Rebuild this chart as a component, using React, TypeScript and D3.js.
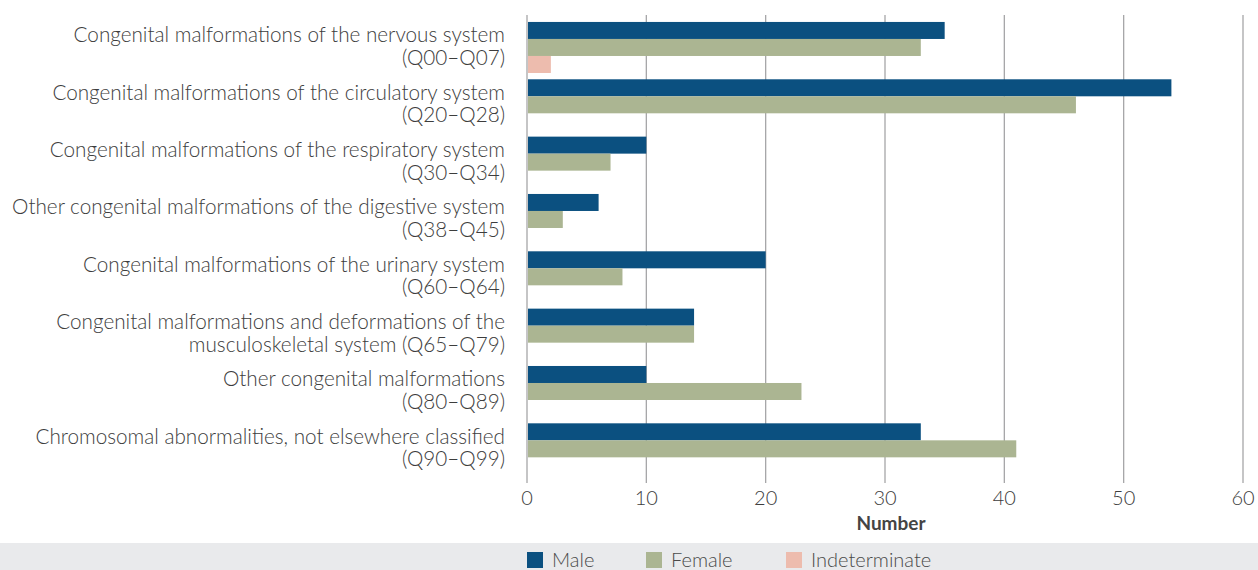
import { useEffect, useRef } from 'react';
import * as d3 from 'd3';

const categories = [
  ['Congenital malformations of the nervous system', '(Q00–Q07)'],
  ['Congenital malformations of the circulatory system', '(Q20–Q28)'],
  ['Congenital malformations of the respiratory system', '(Q30–Q34)'],
  ['Other congenital malformations of the digestive system', '(Q38–Q45)'],
  ['Congenital malformations of the urinary system', '(Q60–Q64)'],
  ['Congenital malformations and deformations of the', 'musculoskeletal system (Q65–Q79)'],
  ['Other congenital malformations', '(Q80–Q89)'],
  ['Chromosomal abnormalities, not elsewhere classified', '(Q90–Q99)'],
];

const maleValues = [35, 54, 10, 6, 20, 14, 10, 33];
const femaleValues = [33, 46, 7, 3, 8, 14, 23, 41];
const indeterminateValues = [2, 0, 0, 0, 0, 0, 0, 0];

const seriesNames = ['Male', 'Female', 'Indeterminate'];
const seriesColors = ['#0b5080', '#abb592', '#edbcae'];

const xTicks = [0, 10, 20, 30, 40, 50, 60];

const FONT = 'Lato, "Open Sans", sans-serif';

export default function App() {
  const svgRef = useRef<SVGSVGElement>(null);

  useEffect(() => {
    const width = 1258;
    const height = 570;
    const margin = { left: 527, right: 15, top: 18.8, bottom: 92.5 };

    const svg = d3.select(svgRef.current);
    svg.selectAll('*').remove();
    svg.attr('width', width).attr('height', height);

    const x = d3.scaleLinear()
      .domain([0, 60])
      .range([margin.left, width - margin.right]);

    const y = d3.scaleBand<number>()
      .domain(d3.range(categories.length))
      .range([margin.top, height - margin.bottom])
      .paddingInner(0.11)
      .paddingOuter(0.055);

    const inner = d3.scaleBand<number>()
      .domain([0, 1, 2])
      .range([0, y.bandwidth()]);

    // gridlines
    svg.append('g')
      .selectAll('line')
      .data(xTicks)
      .join('line')
      .attr('x1', d => x(d))
      .attr('x2', d => x(d))
      .attr('y1', 15)
      .attr('y2', 483)
      .attr('stroke', '#a6a6a8')
      .attr('stroke-width', 1.3);

    const table = categories.map((_, i) => [maleValues[i], femaleValues[i], indeterminateValues[i]]);

    const groups = svg.append('g')
      .selectAll('g')
      .data(table)
      .join('g')
      .attr('transform', (_, i) => `translate(0,${y(i)})`);

    groups.selectAll('rect')
      .data(d => d)
      .join('rect')
      .attr('x', x(0) + 1)
      .attr('y', (_, j) => inner(j)!)
      .attr('width', d => Math.max(0, x(d) - x(0) - 1))
      .attr('height', inner.bandwidth())
      .attr('fill', (_, j) => seriesColors[j]);

    // category labels
    const labels = svg.append('g')
      .selectAll('text')
      .data(categories)
      .join('text')
      .attr('text-anchor', 'end')
      .attr('font-family', FONT)
      .attr('font-size', 20.7)
      .attr('font-weight', 300)
      .attr('fill', '#3d3d3d')
      .attr('transform', (_, i) => `translate(505,${y(i)! + y.bandwidth() / 2})`);

    labels.selectAll('tspan')
      .data(d => d)
      .join('tspan')
      .attr('x', 0)
      .attr('y', (_, j) => (j === 0 ? -5.2 : 17.5))
      .text(d => d);

    // x tick labels
    svg.append('g')
      .selectAll('text')
      .data(xTicks)
      .join('text')
      .attr('x', d => x(d))
      .attr('y', 505)
      .attr('text-anchor', 'middle')
      .attr('font-family', FONT)
      .attr('font-size', 20)
      .attr('font-weight', 300)
      .attr('fill', '#3d3d3d')
      .text(d => d);

    svg.append('text')
      .attr('x', 891)
      .attr('y', 530)
      .attr('text-anchor', 'middle')
      .attr('font-family', FONT)
      .attr('font-size', 19)
      .attr('font-weight', 'bold')
      .attr('fill', '#444')
      .text('Number');

    // legend
    svg.append('rect')
      .attr('x', 0)
      .attr('y', 543)
      .attr('width', width)
      .attr('height', height - 543)
      .attr('fill', '#e9eaec');

    const legendX = [527, 646, 786];
    const legend = svg.append('g')
      .selectAll('g')
      .data(seriesNames)
      .join('g')
      .attr('transform', (_, i) => `translate(${legendX[i]},552)`);

    legend.append('rect')
      .attr('width', 16)
      .attr('height', 16)
      .attr('fill', (_, i) => seriesColors[i]);

    legend.append('text')
      .attr('x', 25)
      .attr('y', 15)
      .attr('font-family', FONT)
      .attr('font-size', 20)
      .attr('font-weight', 300)
      .attr('fill', '#4a4a4a')
      .text(d => d);
  }, []);

  return (
    <div style={{ position: 'fixed', left: 0, top: 0, background: '#fff' }}>
      <svg ref={svgRef} style={{ display: 'block' }} />
    </div>
  );
}
